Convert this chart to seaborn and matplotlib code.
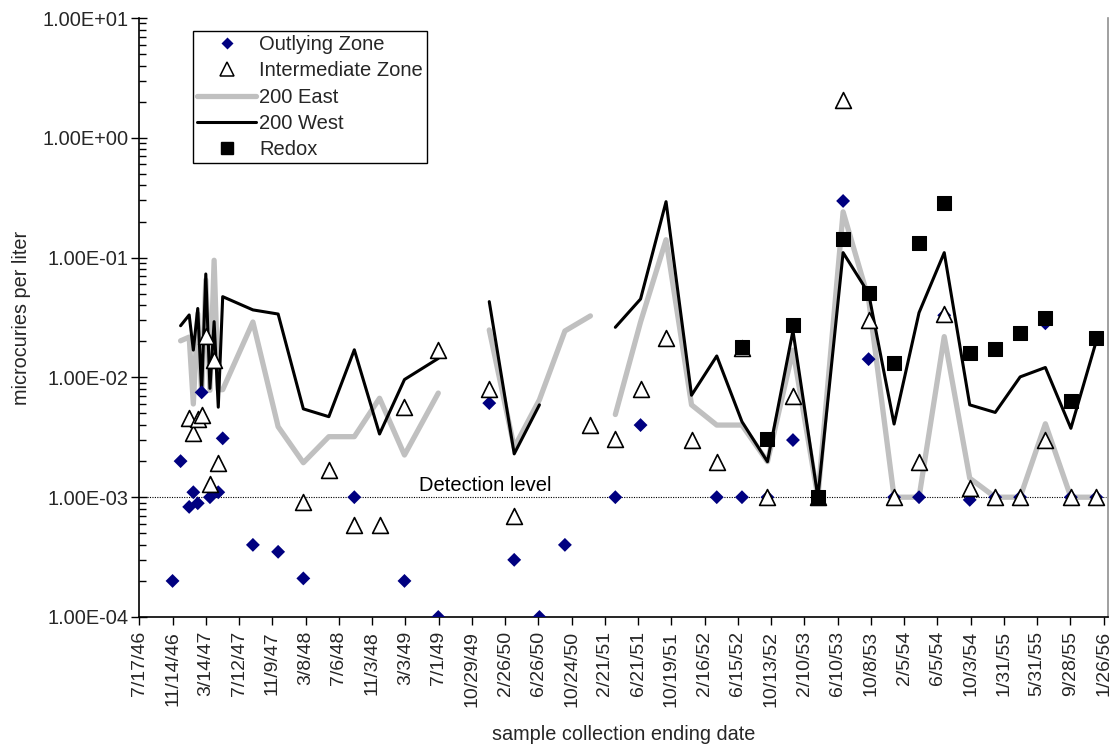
import numpy as np
import pandas as pd
import matplotlib
matplotlib.use("Agg")
import matplotlib.pyplot as plt
import matplotlib.dates as mdates
from matplotlib.lines import Line2D
from matplotlib.ticker import FixedLocator, LogLocator, NullFormatter
import seaborn as sns

nan = np.nan

# Sample collection ending dates (rows with no values keep the line breaks)
sample_dates = [
    "1946-11-14", "1946-12-13", "1947-01-13", "1947-01-28", "1947-02-13",
    "1947-02-27", "1947-03-14", "1947-03-29", "1947-04-13", "1947-04-28",
    "1947-05-14", "1947-08-31", "1947-11-30", "1948-02-29", "1948-05-31",
    "1948-08-31", "1948-11-30", "1949-02-28", "1949-06-30", "1949-09-30",
    "1949-12-31", "1950-03-31", "1950-06-30", "1950-09-30", "1950-12-31",
    "1951-01-31", "1951-03-31", "1951-06-30", "1951-09-30", "1951-12-31",
    "1952-03-31", "1952-06-30", "1952-09-30", "1952-12-31", "1953-03-31",
    "1953-06-30", "1953-09-30", "1953-12-31", "1954-03-31", "1954-06-30",
    "1954-09-30", "1954-12-31", "1955-03-31", "1955-06-30", "1955-09-30",
    "1955-12-31",
]

# microcuries per liter
outlying_zone = [
    2.0e-4, 2.0e-3, 8.3e-4, 1.1e-3, 8.9e-4,
    7.5e-3, nan, 1.0e-3, nan, 1.1e-3,
    3.1e-3, 4.0e-4, 3.5e-4, 2.1e-4, nan,
    1.0e-3, nan, 2.0e-4, 1.0e-4, nan,
    6.1e-3, 3.0e-4, 1.0e-4, 4.0e-4, nan,
    nan, 1.0e-3, 4.0e-3, nan, nan,
    1.0e-3, 1.0e-3, 1.0e-3, 3.0e-3, 1.0e-3,
    2.97e-1, 1.42e-2, 1.0e-3, 1.0e-3, 3.3e-2,
    9.5e-4, 1.0e-3, 1.0e-3, 2.83e-2, 1.0e-3,
    1.0e-3,
]
intermediate_zone = [
    nan, nan, 4.6e-3, 3.45e-3, 4.5e-3,
    4.9e-3, 2.22e-2, 1.29e-3, 1.4e-2, 1.94e-3,
    nan, nan, nan, 9.2e-4, 1.69e-3,
    5.9e-4, 5.9e-4, 5.7e-3, 1.69e-2, nan,
    8.0e-3, 7.0e-4, nan, nan, 4.0e-3,
    nan, 3.04e-3, 8.0e-3, 2.12e-2, 3.0e-3,
    1.98e-3, 1.75e-2, 1.0e-3, 7.0e-3, 1.0e-3,
    2.07, 3.01e-2, 1.0e-3, 1.98e-3, 3.38e-2,
    1.19e-3, 1.0e-3, 1.0e-3, 3.0e-3, 1.0e-3,
    1.0e-3,
]
east_200 = [
    nan, 2.02e-2, 2.17e-2, 6.0e-3, 3.4e-2,
    7.2e-3, 6.5e-2, 7.8e-3, 9.5e-2, 7.9e-3,
    7.9e-3, 2.9e-2, 3.88e-3, 1.94e-3, 3.2e-3,
    3.2e-3, 6.7e-3, 2.25e-3, 7.4e-3, nan,
    2.49e-2, 2.6e-3, 6.5e-3, 2.44e-2, 3.26e-2,
    nan, 4.9e-3, 2.9e-2, 1.41e-1, 5.9e-3,
    4.0e-3, 4.0e-3, 1.98e-3, 1.69e-2, 1.0e-3,
    2.41e-1, 4.5e-2, 1.0e-3, 1.0e-3, 2.19e-2,
    1.44e-3, 1.0e-3, 1.0e-3, 4.1e-3, 1.0e-3,
    1.0e-3,
]
west_200 = [
    nan, 2.7e-2, 3.32e-2, 1.69e-2, 3.76e-2,
    7.5e-3, 7.3e-2, 8.1e-3, 2.92e-2, 5.64e-3,
    4.72e-2, 3.66e-2, 3.38e-2, 5.46e-3, 4.7e-3,
    1.7e-2, 3.37e-3, 9.6e-3, 1.44e-2, nan,
    4.29e-2, 2.3e-3, 5.9e-3, nan, nan,
    nan, 2.62e-2, 4.51e-2, 2.93e-1, 7.1e-3,
    1.51e-2, 4.27e-3, 1.98e-3, 2.45e-2, 1.0e-3,
    1.1e-1, 5.04e-2, 4.08e-3, 3.47e-2, 1.1e-1,
    5.9e-3, 5.1e-3, 1.01e-2, 1.21e-2, 3.76e-3,
    2.02e-2,
]
redox = [
    nan, nan, nan, nan, nan,
    nan, nan, nan, nan, nan,
    nan, nan, nan, nan, nan,
    nan, nan, nan, nan, nan,
    nan, nan, nan, nan, nan,
    nan, nan, nan, nan, nan,
    nan, 1.8e-2, 3.04e-3, 2.74e-2, 1.0e-3,
    1.42e-1, 5.04e-2, 1.31e-2, 1.33e-1, 2.87e-1,
    1.61e-2, 1.72e-2, 2.33e-2, 3.11e-2, 6.4e-3,
    2.12e-2,
]

detection_level = 1.0e-3

x_tick_labels = [
    "7/17/46", "11/14/46", "3/14/47", "7/12/47", "11/9/47", "3/8/48",
    "7/6/48", "11/3/48", "3/3/49", "7/1/49", "10/29/49", "2/26/50",
    "6/26/50", "10/24/50", "2/21/51", "6/21/51", "10/19/51", "2/16/52",
    "6/15/52", "10/13/52", "2/10/53", "6/10/53", "10/8/53", "2/5/54",
    "6/5/54", "10/3/54", "1/31/55", "5/31/55", "9/28/55", "1/26/56",
]
y_tick_values = [1e-4, 1e-3, 1e-2, 1e-1, 1e0, 1e1]
y_tick_labels = ["1.00E-04", "1.00E-03", "1.00E-02", "1.00E-01", "1.00E+00", "1.00E+01"]

sns.set_theme(style="white")
plt.rcParams["font.family"] = ["Liberation Sans", "DejaVu Sans"]

df = pd.DataFrame({
    "date": pd.to_datetime(sample_dates),
    "Outlying Zone": outlying_zone,
    "Intermediate Zone": intermediate_zone,
    "200 East": east_200,
    "200 West": west_200,
    "Redox": redox,
})

W, H = 1115, 747
fig = plt.figure(figsize=(W / 100, H / 100), dpi=100)
ax = fig.add_axes([139.3 / W, 1 - 617 / H, (1108 - 139.3) / W, 599 / H])
ax.set_yscale("log")


def segments(col):
    """Split a series into connected runs so missing values leave gaps."""
    sub = df[["date", col]].copy()
    sub["seg"] = sub[col].isna().cumsum()
    return sub.dropna()


east = segments("200 East")
sns.lineplot(data=east, x="date", y="200 East", units="seg", estimator=None,
             color="#C0C0C0", lw=3.8, ax=ax, zorder=2, legend=False)
west = segments("200 West")
sns.lineplot(data=west, x="date", y="200 West", units="seg", estimator=None,
             color="black", lw=2.2, ax=ax, zorder=3, legend=False)

sns.scatterplot(data=df, x="date", y="Outlying Zone", marker="D", s=50,
                color="#000080", edgecolor="none", ax=ax, zorder=4, legend=False)
sns.scatterplot(data=df, x="date", y="Intermediate Zone", marker="^", s=130,
                facecolor="white", edgecolor="black", linewidth=1.2, ax=ax,
                zorder=5, legend=False)
sns.scatterplot(data=df, x="date", y="Redox", marker="s", s=90,
                color="black", edgecolor="black", ax=ax, zorder=6, legend=False)

# Detection level reference
ax.axhline(detection_level, xmin=0.008, xmax=0.998, color="black", lw=0.8,
           ls=(0, (1, 1.2)), zorder=1)
ax.text(pd.Timestamp("1949-12-15"), detection_level * 1.04, "Detection level",
        ha="center", va="bottom", fontsize=14.5, color="black")

# Axes
start = pd.Timestamp("1946-07-17")
tick_dates = pd.date_range(start, periods=len(x_tick_labels), freq="120D")
ax.set_xlim(start, start + pd.Timedelta(days=3496))
ax.xaxis.set_major_locator(FixedLocator(mdates.date2num(tick_dates)))
ax.set_xticklabels(x_tick_labels, rotation=90, fontsize=14)
ax.set_ylim(1e-4, 1e1)
ax.yaxis.set_major_locator(FixedLocator(y_tick_values))
ax.set_yticklabels(y_tick_labels, fontsize=14.4)
ax.yaxis.set_minor_locator(LogLocator(base=10, subs=np.arange(2, 10)))
ax.yaxis.set_minor_formatter(NullFormatter())

ax.tick_params(axis="x", which="major", direction="out", length=6, width=1,
               color="black", bottom=True, pad=4)
ax.tick_params(axis="y", which="major", direction="inout", length=12, width=1,
               color="black", left=True, pad=2)
ax.tick_params(axis="y", which="minor", direction="in", length=5, width=1,
               color="black", left=True)

for side in ["left", "bottom"]:
    ax.spines[side].set_color("black")
    ax.spines[side].set_linewidth(1.2)
ax.spines["top"].set_visible(False)
ax.spines["right"].set_color("#909090")
ax.spines["right"].set_linewidth(1.2)

ax.set_xlabel("sample collection ending date", fontsize=14.3, labelpad=13)
ax.set_ylabel("microcuries per liter", fontsize=14.3, labelpad=8)

handles = [
    Line2D([], [], ls="none", marker="D", ms=6.3, color="#000080", mec="none"),
    Line2D([], [], ls="none", marker="^", ms=10, mfc="white", mec="black", mew=1.1),
    Line2D([], [], color="#C0C0C0", lw=3.8),
    Line2D([], [], color="black", lw=2.2),
    Line2D([], [], ls="none", marker="s", ms=9, color="black"),
]
labels = ["Outlying Zone", "Intermediate Zone", "200 East", "200 West", "Redox"]
leg = ax.legend(handles, labels, loc="upper left", bbox_to_anchor=(0.0554, 0.978),
                borderaxespad=0, fontsize=14.5, frameon=True, fancybox=False,
                edgecolor="black", framealpha=1, handlelength=2.95,
                handletextpad=0.15, labelspacing=0.36, borderpad=0.2)
leg.get_frame().set_linewidth(1.0)

fig.savefig("out.png", dpi=100)
